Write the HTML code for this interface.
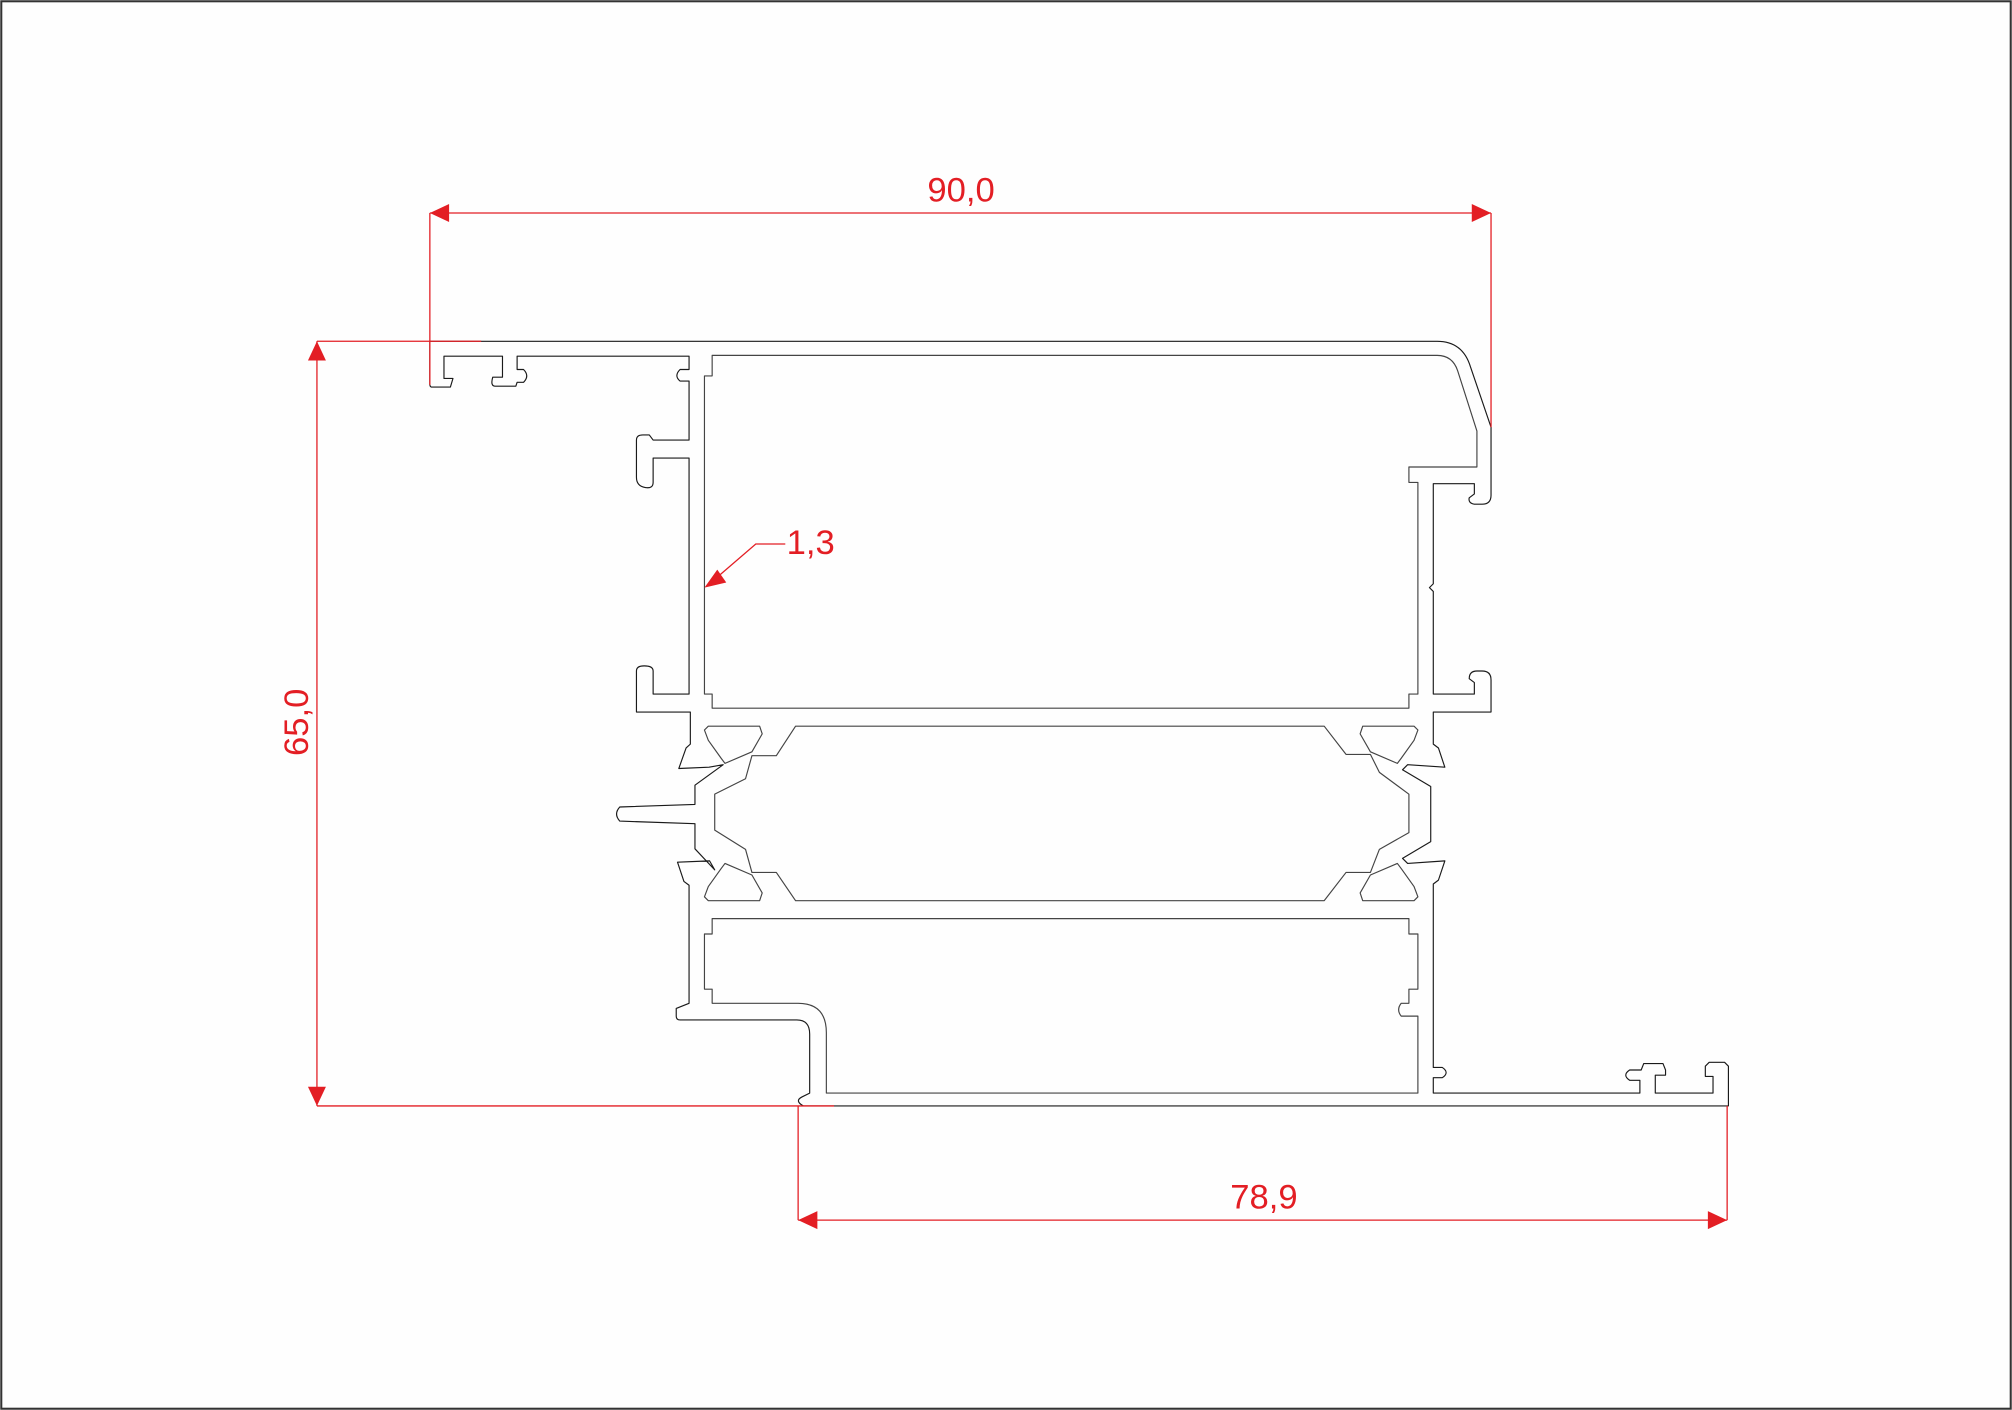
<!DOCTYPE html>
<html><head><meta charset="utf-8"><style>
html,body{margin:0;padding:0;background:#fff;}
svg{display:block;}
text{font-family:"Liberation Sans",sans-serif;fill:#e31e24;}
</style></head><body>
<svg width="2012" height="1410" viewBox="0 0 1568 1099" preserveAspectRatio="none" xmlns="http://www.w3.org/2000/svg">
<rect x="0" y="0" width="1568" height="1099" fill="#fefefe"/>
<rect x="1" y="1" width="1566" height="1097" fill="none" stroke="#333" stroke-width="1.6"/>
<g fill="none" stroke="#1a1a1a" stroke-width="0.9" stroke-linejoin="round">
<path d="M335,266 H1120 Q1140,266 1146,286 L1162,333 V386 Q1162,393 1155,393 H1149 Q1144,392 1145,388 L1149,385 V377 H1117 V455 L1114,458 L1117,461 V541 H1149 V532 L1145,529 Q1145,523 1151,523 H1155 Q1162,523 1162,530 V555 H1117 V580 L1121,583 L1126,598 L1097,596 L1093,600 L1115,613 V656 L1093,669 L1097,673 L1126,671 L1121,686 L1117,689 V832 H1124 Q1130,836 1124,840 H1117 V852 H1278 V842 H1270 Q1264,838 1270,834 H1279 L1281,829 H1296 L1298,834 V838 H1290 V852 H1335 V839 H1329 V831 L1332,828 H1344 L1347,831 V862 H626 Q619,858 625,855 L631,852 V806 Q631,795 621,795 H530 Q527,795 527,792 V786 L537,782 V690 L533,687 L528,672 L553,671 L557,678 L541.6,661.6 V642 L483,640 Q478,634.5 483,629 L541.6,627 V612 L563.6,596 L552.6,598 L529,599 L534.7,583 L538,580 V555 H496 V523 Q496,519 502,519 Q509,519 509,523 V541 H537 V357 H509 V376 Q509,381 503,380 Q496,379 496,372 V343 Q496,339 501,339 H506 L509,343 H537 V297 H530 Q525,293 530,288 H537 V277.6 H403 V288 H408 Q413,293 408,298 H403 L402,301 H386 Q382,301 384,294 H391.6 V277.6 H346 V295 H353 L351,301.7 H336 Q335,301 335,300 Z"/>
</g>
<g fill="none" stroke="#444" stroke-width="0.9" stroke-linejoin="round">
<path d="M555,277 H1120 Q1132,277 1136,289 L1151,336 V364 H1098 V376 H1105 V541 H1098 V552 H555 V541 H549 V293 H555 Z"/>
<path d="M620,566 H1032 L1049,588 H1068 L1075,602 L1098,619 V649 L1075,662 L1068,680 H1049 L1032,702 H620 L605,680 H586 L581,662 L557,647 V619 L581,607 L586,589 H605 Z"/>
<path d="M555,716 H1098 V728 H1105 V771 H1098 V782 H1092 Q1088,787 1092,792 H1105 V852 H644 V805 Q644,782 622,782 H555 V771 H549 V728 H555 Z"/>
<path d="M552,566 H592 L594,572 L586,586 L565,595 L562,591 L552,577 L549,569 Z"/>
<path d="M1102,566 H1062 L1060,572 L1068,586 L1089,595 L1092,591 L1102,577 L1105,569 Z"/>
<path d="M552,702 H592 L594,696 L586,682 L565,673 L562,677 L552,691 L549,699 Z"/>
<path d="M1102,702 H1062 L1060,696 L1068,682 L1089,673 L1092,677 L1102,691 L1105,699 Z"/>
</g>
<g stroke="#e31e24" stroke-width="1" fill="none">
<path d="M335,166 H1162 M335,166 V300 M1162,166 V333"/>
<path d="M247,266 V862 M247,266 H375 M247,862 H650"/>
<path d="M622,951 H1346 M622,862 V951 M1346,862 V951"/>
<path d="M553,455 L589,424 H612"/>
</g>
<g fill="#e31e24">
<polygon points="335,166 350,159 350,173"/>
<polygon points="1162,166 1147,159 1147,173"/>
<polygon points="247,266 240,281 254,281"/>
<polygon points="247,862 240,847 254,847"/>
<polygon points="622,951 637,944 637,958"/>
<polygon points="1346,951 1331,944 1331,958"/>
<polygon points="549,458 559,444 566,454"/>
</g>
<text x="749" y="157" font-size="27" text-anchor="middle">90,0</text>
<text x="985" y="942" font-size="27" text-anchor="middle">78,9</text>
<text x="613" y="432" font-size="27">1,3</text>
<text x="0" y="0" font-size="27" text-anchor="middle" transform="translate(240,563) rotate(-90)">65,0</text>
</svg>
</body></html>
